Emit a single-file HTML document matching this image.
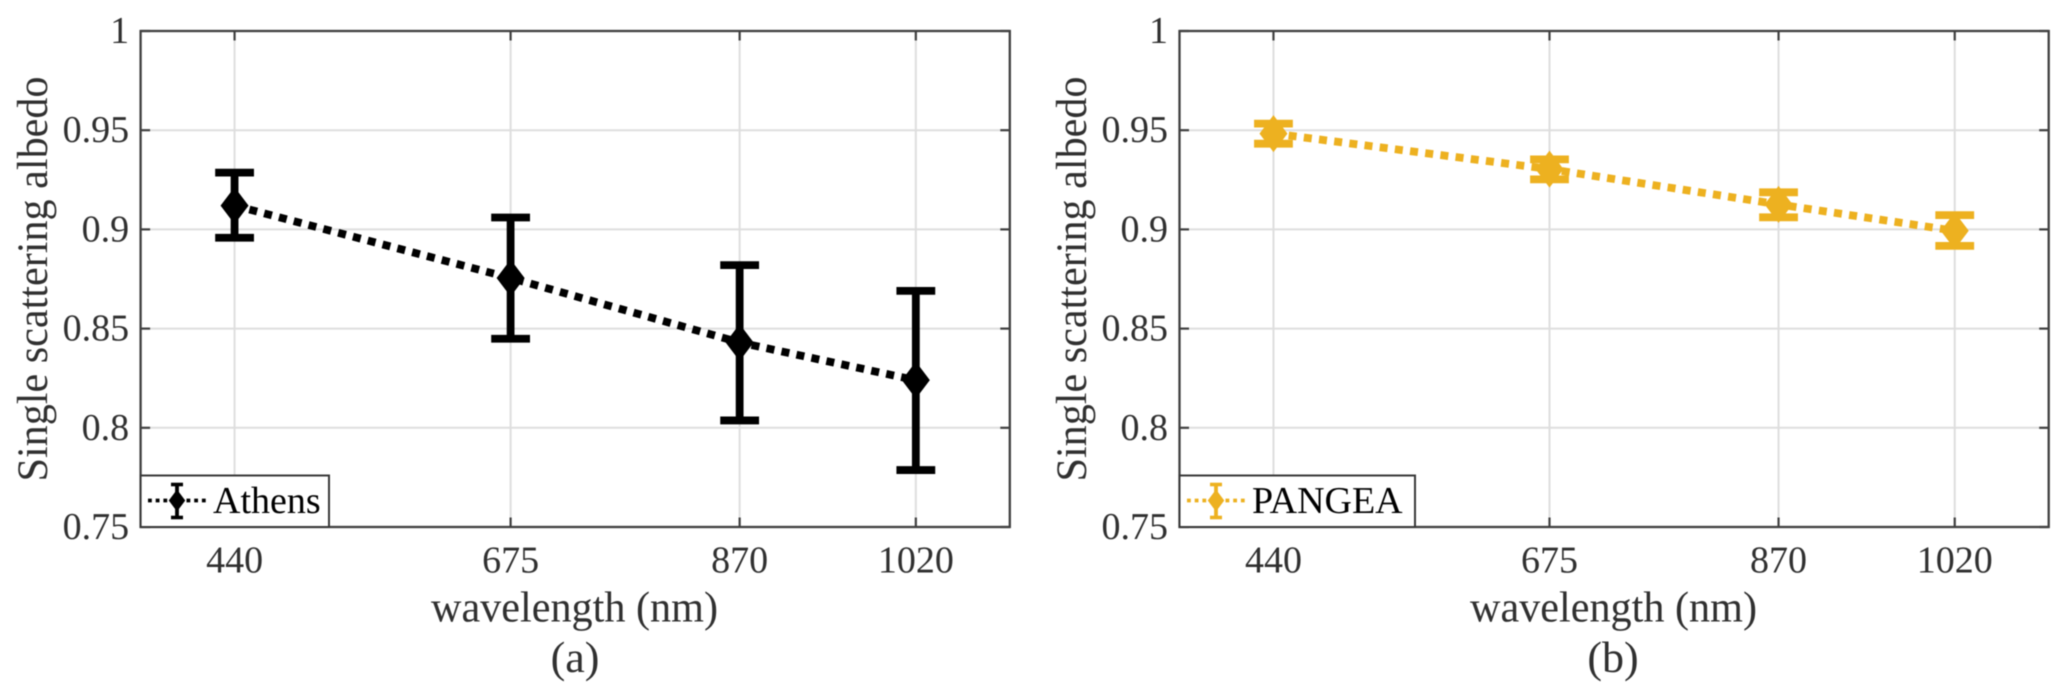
<!DOCTYPE html>
<html lang="en">
<head>
<meta charset="utf-8">
<title>Single scattering albedo vs wavelength</title>
<style>
html,body{margin:0;padding:0;background:#fff;}
svg{display:block;font-family:"Liberation Serif",serif;filter:blur(0.45px);text-rendering:geometricPrecision;}
text{fill:#303030;}
.tick{font-size:38px;}
.title{font-size:43.5px;}
.cap{font-size:44px;}
.leg{font-size:38px;fill:#000;}
</style>
</head>
<body>
<svg id="figure" xmlns="http://www.w3.org/2000/svg" width="2067" height="699" viewBox="0 0 2067 699">
  <rect x="0" y="0" width="2067" height="699" fill="#ffffff"/>

  <g id="panel-a">
    <g id="panel-a-plot"></g>
    <text class="title" text-anchor="middle" textLength="405" lengthAdjust="spacingAndGlyphs" transform="translate(47,279) rotate(-90)">Single scattering albedo</text>
    <text class="title" text-anchor="middle" textLength="287" lengthAdjust="spacingAndGlyphs" x="574.5" y="621.5">wavelength (nm)</text>
    <text class="cap" text-anchor="middle" x="575" y="672">(a)</text>
    <g>
      <rect x="140.6" y="475.5" width="188.4" height="51.5" fill="#fff" stroke="#383838" stroke-width="2"/>
      <g id="legend-icon-a"></g>
      <text class="leg" x="213" y="513">Athens</text>
    </g>
  </g>

  <g id="panel-b">
    <g id="panel-b-plot"></g>
    <text class="title" text-anchor="middle" textLength="405" lengthAdjust="spacingAndGlyphs" transform="translate(1086,279) rotate(-90)">Single scattering albedo</text>
    <text class="title" text-anchor="middle" textLength="287" lengthAdjust="spacingAndGlyphs" x="1613.5" y="621.5">wavelength (nm)</text>
    <text class="cap" text-anchor="middle" x="1613" y="672">(b)</text>
    <g>
      <rect x="1179.5" y="475.5" width="235.5" height="51.5" fill="#fff" stroke="#383838" stroke-width="2"/>
      <g id="legend-icon-b"></g>
      <text class="leg" x="1252" y="513">PANGEA</text>
    </g>
  </g>
</svg>

<script>
// Shared axis data
const wavelengths = [440, 675, 870, 1020];
const xTickLabels = ['440', '675', '870', '1020'];
const yTicks = [0.75, 0.8, 0.85, 0.9, 0.95, 1];
const yTickLabels = ['0.75', '0.8', '0.85', '0.9', '0.95', '1'];

// Panel (a) Athens
const athensValues = [0.912, 0.8755, 0.843, 0.824];
const athensUpper = [0.9286, 0.906, 0.882, 0.869];
const athensLower = [0.8958, 0.8449, 0.8037, 0.7787];

// Panel (b) PANGEA
const pangeaValues = [0.9483, 0.9304, 0.9126, 0.8993];
const pangeaUpper = [0.9533, 0.9353, 0.9187, 0.9072];
const pangeaLower = [0.9432, 0.9252, 0.9061, 0.8917];

const xDomain = [360, 1100];
const yDomain = [0.75, 1];
const NS = 'http://www.w3.org/2000/svg';

function mk(parent, tag, attrs) {
  const el = document.createElementNS(NS, tag);
  for (const k in attrs) el.setAttribute(k, attrs[k]);
  parent.appendChild(el);
  return el;
}

function diamondPoints(cx, cy, w, h) {
  return (cx - w / 2) + ',' + cy + ' ' + cx + ',' + (cy - h / 2) + ' ' + (cx + w / 2) + ',' + cy + ' ' + cx + ',' + (cy + h / 2);
}

function drawPanel(id, left, right, color, values, upper, lower) {
  const root = document.getElementById(id);
  const top = 31, bottom = 527;
  const xScale = v => left + (v - xDomain[0]) / (xDomain[1] - xDomain[0]) * (right - left);
  const yScale = v => bottom - (v - yDomain[0]) / (yDomain[1] - yDomain[0]) * (bottom - top);
  const frameColor = '#404040';

  // grid
  yTicks.forEach(t => {
    if (t === yDomain[0] || t === yDomain[1]) return;
    const g = mk(root, 'line', {x1: left, x2: right, y1: yScale(t), y2: yScale(t), stroke: '#dedede', 'stroke-width': 2});
    
    
  });
  wavelengths.forEach(w => {
    const g = mk(root, 'line', {x1: xScale(w), x2: xScale(w), y1: top, y2: bottom, stroke: '#dedede', 'stroke-width': 2});
    
    
  });

  // ticks
  wavelengths.forEach((w, i) => {
    const x = xScale(w);
    [[top, top + 9.5], [bottom, bottom - 9.5]].forEach(p => {
      const t = mk(root, 'line', {x1: x, x2: x, y1: p[0], y2: p[1], stroke: frameColor, 'stroke-width': 2.2});
      
      
    });
    const label = mk(root, 'text', {x: x, y: 572.5, 'text-anchor': 'middle', class: 'tick'});
    label.textContent = xTickLabels[i];
    
    
  });
  yTicks.forEach((v, i) => {
    const y = yScale(v);
    [[left, left + 9.5], [right, right - 9.5]].forEach(p => {
      const t = mk(root, 'line', {x1: p[0], x2: p[1], y1: y, y2: y, stroke: frameColor, 'stroke-width': 2.2});
      
      
    });
    const label = mk(root, 'text', {x: left - 11.5, y: y + 12, 'text-anchor': 'end', class: 'tick'});
    label.textContent = yTickLabels[i];
    
    
  });

  // frame
  const frame = mk(root, 'rect', {x: left, y: top, width: right - left, height: bottom - top, fill: 'none', stroke: frameColor, 'stroke-width': 2.3});
  
  

  // connecting dotted line
  const pts = wavelengths.map((w, i) => xScale(w) + ',' + yScale(values[i])).join(' ');
  const line = mk(root, 'polyline', {points: pts, fill: 'none', stroke: color, 'stroke-width': 7.8, 'stroke-dasharray': '8 7.3'});
  
  

  // error bars and markers
  wavelengths.forEach((w, i) => {
    const x = xScale(w), yU = yScale(upper[i]), yL = yScale(lower[i]), yC = yScale(values[i]);
    const stem = mk(root, 'line', {x1: x, x2: x, y1: yU, y2: yL, stroke: color, 'stroke-width': 7.8});
    
    
    const capU = mk(root, 'line', {x1: x - 19.4, x2: x + 19.4, y1: yU, y2: yU, stroke: color, 'stroke-width': 7.8});
    
    
    const capL = mk(root, 'line', {x1: x - 19.4, x2: x + 19.4, y1: yL, y2: yL, stroke: color, 'stroke-width': 7.8});
    
    
    const marker = mk(root, 'polygon', {points: diamondPoints(x, yC, 28, 37), fill: color});
    
    
  });
}

function drawLegendIcon(id, x0, x1, cx, cy, color) {
  const root = document.getElementById(id);
  const l = mk(root, 'line', {x1: x0, x2: x1, y1: cy, y2: cy, stroke: color, 'stroke-width': 3.8, 'stroke-dasharray': '3.8 3.9'});
  
  
  const s = mk(root, 'line', {x1: cx, x2: cx, y1: cy - 16, y2: cy + 17, stroke: color, 'stroke-width': 3.8});
  
  
  [-16, 17].forEach(d => {
    const c = mk(root, 'line', {x1: cx - 6, x2: cx + 6, y1: cy + d, y2: cy + d, stroke: color, 'stroke-width': 3.6});
    
    
  });
  const m = mk(root, 'polygon', {points: diamondPoints(cx, cy, 16.5, 22), fill: color});
  
  
}

drawPanel('panel-a-plot', 140.6, 1009.8, '#000000', athensValues, athensUpper, athensLower);
drawPanel('panel-b-plot', 1179.5, 2048.7, '#EDB120', pangeaValues, pangeaUpper, pangeaLower);
drawLegendIcon('legend-icon-a', 148, 206, 177, 500.5, '#000000');
drawLegendIcon('legend-icon-b', 1187, 1245, 1216, 500.5, '#EDB120');
</script>
</body>
</html>
